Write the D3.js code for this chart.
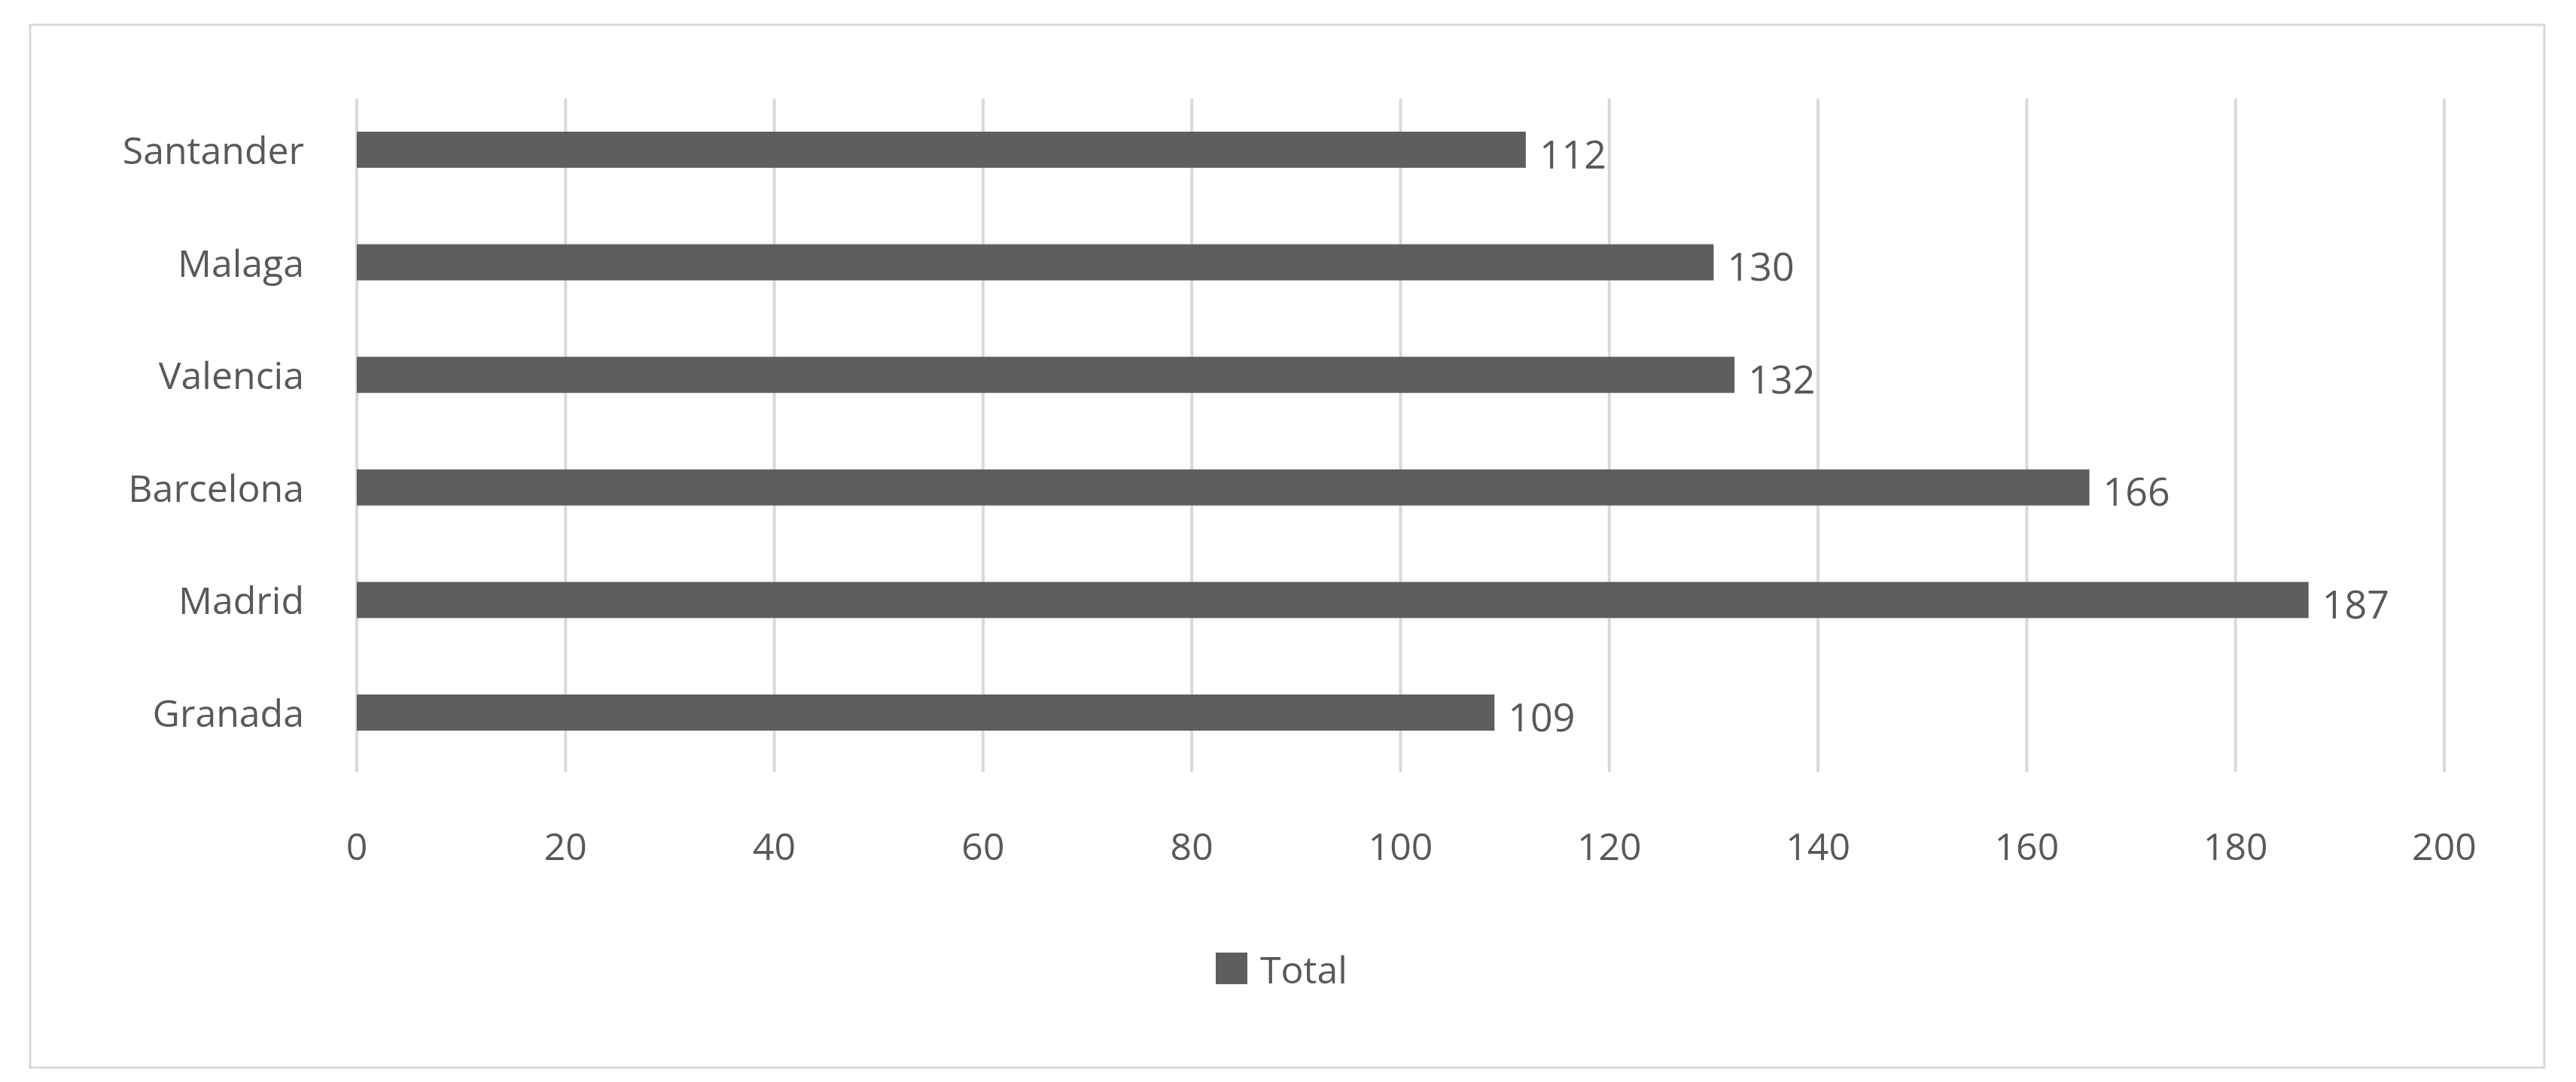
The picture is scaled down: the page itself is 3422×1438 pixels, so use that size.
<!DOCTYPE html>
<html><head><meta charset="utf-8">
<script src="https://cdn.jsdelivr.net/npm/d3@7"></script>
<style>body{margin:0;background:#fff}svg{display:block}</style>
</head><body><div id="chart"></div>
<script>
const [WIDTH, HEIGHT] = [3422, 1438]
const cities = ['Santander', 'Malaga', 'Valencia', 'Barcelona', 'Madrid', 'Granada']
const totals = [112, 130, 132, 166, 187, 109]
const ticks = [0, 20, 40, 60, 80, 100, 120, 140, 160, 180, 200]
const seriesName = 'Total'

const FONT = '"Open Sans", "Noto Sans", sans-serif'
const TEXT = '#595959'
const BAR = '#5e5e5e'

const svg = d3.select('#chart').append('svg')
    .attr('width', WIDTH).attr('height', HEIGHT)

svg.append('rect')
    .attr('x', 40).attr('y', 33).attr('width', 3340).attr('height', 1386)
    .attr('fill', '#fff').attr('stroke', '#d9d9d9').attr('stroke-width', 3)

const x = d3.scaleLinear([0, 200], [474, 3247])
const y = d3.scalePoint(cities, [199, 947])
const barH = 48

// gridlines
svg.append('g').selectAll('line').data(ticks).join('line')
    .attr('x1', d => x(d)).attr('x2', d => x(d))
    .attr('y1', 131).attr('y2', 1026)
    .attr('stroke', '#d9d9d9').attr('stroke-width', 4)

// x tick labels
svg.append('g').selectAll('text').data(ticks).join('text')
    .attr('x', d => x(d)).attr('y', 1124)
    .attr('text-anchor', 'middle').attr('dominant-baseline', 'central')
    .attr('font-family', FONT).attr('font-size', 50).attr('fill', TEXT)
    .text(d => d)

const data = cities.map((c, i) => ({ city: c, value: totals[i] }))

svg.append('g').selectAll('rect').data(data).join('rect')
    .attr('x', x(0)).attr('y', d => y(d.city) - barH / 2)
    .attr('width', d => x(d.value) - x(0)).attr('height', barH)
    .attr('fill', BAR)

// value labels
svg.append('g').selectAll('text').data(data).join('text')
    .attr('x', d => x(d.value) + 18).attr('y', d => y(d.city) + 4)
    .attr('dominant-baseline', 'central')
    .attr('font-family', FONT).attr('font-size', 52).attr('fill', TEXT)
    .text(d => d.value)

// category labels
svg.append('g').selectAll('text').data(cities).join('text')
    .attr('x', 404).attr('y', d => y(d))
    .attr('text-anchor', 'end').attr('dominant-baseline', 'central')
    .attr('font-family', FONT).attr('font-size', 50).attr('fill', TEXT)
    .text(d => d)

// legend
svg.append('rect').attr('x', 1615).attr('y', 1266).attr('width', 42).attr('height', 42).attr('fill', BAR)
svg.append('text').attr('x', 1674).attr('y', 1288)
    .attr('dominant-baseline', 'central')
    .attr('font-family', FONT).attr('font-size', 50).attr('fill', TEXT)
    .text(seriesName)
</script></body></html>
